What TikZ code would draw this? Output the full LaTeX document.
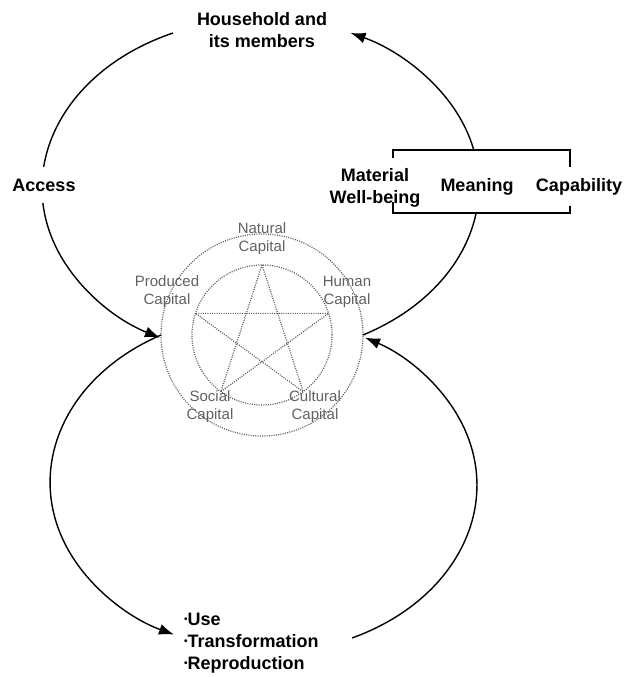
\documentclass[tikz,border=0pt]{standalone}
\usepackage{fontspec}
\setmainfont{Liberation Sans}
\usetikzlibrary{arrows.meta,calc}
\begin{document}
\begin{tikzpicture}[x=1pt,y=-1pt,
  big/.style={font=\fontsize{18}{22}\selectfont\bfseries, inner sep=0pt, align=center},
  caplbl/.style={font=\fontsize{15}{18}\selectfont, text=black!62, inner sep=0pt, align=center},
  dots/.style={draw=black!65, line width=1.2pt, dash pattern=on 1pt off 1.3pt},
  arr/.style={line width=1.4pt, -{Latex[length=15pt,width=11pt]}},
  brk/.style={line width=1.6pt}]
\useasboundingbox (0,0) rectangle (624,677);
% capital circles
\node[circle, dots, minimum size=202pt, inner sep=0pt, outer sep=0pt] (outer) at (262,335) {};
\node[circle, dots, minimum size=140pt, inner sep=0pt, outer sep=0pt] (inner) at (262,335) {};
\coordinate (p1) at (inner.90);
\coordinate (p2) at (inner.162);
\coordinate (p3) at (inner.234);
\coordinate (p4) at (inner.306);
\coordinate (p5) at (inner.18);
\draw[dots] (p1) -- (p3) -- (p5) -- (p2) -- (p4) -- cycle;
% arc end points
\coordinate (hhL) at (173,33);
\coordinate (lstR) at (352,638);
% arcs
\draw[arr] (hhL) arc[start angle=113.7, end angle=242.5, x radius=219pt, y radius=169pt];
\draw[arr] (outer.east) arc[start angle=-61.6, end angle=65.2, x radius=221pt, y radius=169pt];
\draw[arr] (outer.west) arc[start angle=118.8, end angle=245.1, x radius=214pt, y radius=168pt];
\draw[arr] (lstR) arc[start angle=-65.4, end angle=61.5, x radius=214pt, y radius=168pt];
% labels
\node[big] (hh) at (262,30) {Household and\\its members};
\node[big, fill=white, inner xsep=2pt, inner ysep=12pt] (access) at (44,185) {Access};
\node[big, align=left, anchor=west] (list) at (184,643)
  {\raisebox{3pt}{\fontsize{10}{10}\selectfont•}Use\\\raisebox{3pt}{\fontsize{10}{10}\selectfont•}Transformation\\\raisebox{3pt}{\fontsize{10}{10}\selectfont•}Reproduction};
% outcome box
\node[fill=white, minimum width=177pt, minimum height=63pt, inner sep=0pt, outer sep=0pt] (box) at (481.5,181.5) {};
\draw[brk] ($(box.north west)+(0,8)$) -- (box.north west) -- (box.north east) -- ++(0,17);
\draw[brk] ($(box.south west)+(0,-11)$) -- (box.south west) -- (box.south east) -- ++(0,-7);
\node[big] (mat) at (375,187.5) {Material\\Well-being};
\node[big] (mean) at (477,187) {Meaning};
\node[big] (capab) at (579,187) {Capability};
% capital labels
\node[caplbl] (nat) at (262,239) {Natural\\Capital};
\node[caplbl] (prod) at (167,292) {Produced\\Capital};
\node[caplbl] (hum) at (347,292) {Human\\Capital};
\node[caplbl] (soc) at (210,407) {Social\\Capital};
\node[caplbl] (cult) at (315,407) {Cultural\\Capital};
\end{tikzpicture}
\end{document}
